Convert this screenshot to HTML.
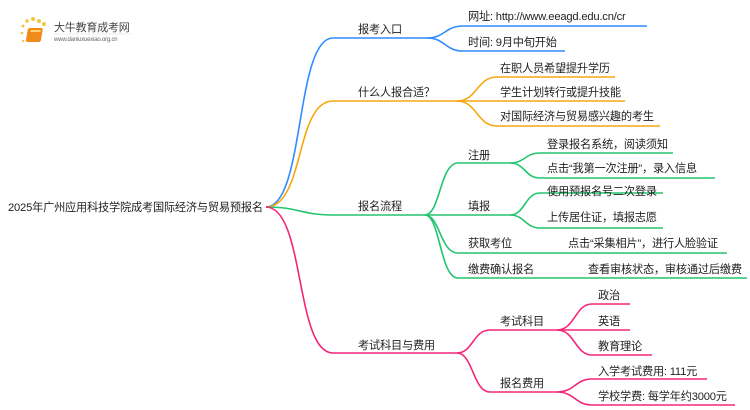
<!DOCTYPE html>
<html><head><meta charset="utf-8"><style>
body{margin:0;background:#fff;}
svg{display:block}
text{font-family:"Liberation Sans","Noto Sans CJK SC",sans-serif;font-size:11.2px;fill:#222;letter-spacing:-0.2px}
</style></head><body>
<svg width="750" height="410" viewBox="0 0 750 410" xmlns="http://www.w3.org/2000/svg">
<g fill="none" stroke-width="1.6">
<g stroke="#2f8cff">
<path d="M266 207 C305 207 295 38 333 38 L427 38"/>
<path d="M427 38 C445 38 445 26 463 26 L647 26"/>
<path d="M427 38 C445 38 445 51 463 51 L565 51"/>
</g>
<g stroke="#f5a70f">
<path d="M266 207 C305 207 295 101 333 101 L457 101"/>
<path d="M457 101 C477 101 477 77 497 77 L615 77"/>
<path d="M457 101 L625 101"/>
<path d="M457 101 C477 101 477 126 497 126 L660 126"/>
</g>
<g stroke="#22c46e">
<path d="M266 207 C300 207 300 215 333 215 L425 215"/>
<path d="M425 215 C440 215 440 163 458 163 L510 163"/>
<path d="M425 215 L510 215"/>
<path d="M425 215 C440 215 440 253 458 253 L727 253"/>
<path d="M425 215 C440 215 440 278 458 278 L747 278"/>
<path d="M510 163 C525 163 525 153 540 153 L673 153"/>
<path d="M510 163 C525 163 525 178 540 178 L715 178"/>
<path d="M510 215 C525 215 525 193 540 193 L663 193"/>
<path d="M510 215 C525 215 525 228 540 228 L663 228"/>
</g>
<g stroke="#f5267a">
<path d="M266 207 C305 207 295 353 333 353 L457 353"/>
<path d="M457 353 C473 353 473 330 490 330 L557 330"/>
<path d="M457 353 C473 353 473 392 490 392 L557 392"/>
<path d="M557 330 C575 330 575 304 592 304 L630 304"/>
<path d="M557 330 L630 330"/>
<path d="M557 330 C575 330 575 355 592 355 L652 355"/>
<path d="M557 392 C575 392 575 379 592 379 L707 379"/>
<path d="M557 392 C575 392 575 405 592 405 L735 405"/>
</g>
</g>
<g>
<circle cx="23" cy="26" r="1.5" fill="#f8c43a"/><circle cx="27" cy="21" r="1.8" fill="#f8c43a"/>
<circle cx="33" cy="19" r="2" fill="#f8c43a"/><circle cx="39" cy="21" r="2" fill="#f8c43a"/>
<circle cx="44" cy="24" r="2" fill="#f8c43a"/><circle cx="22" cy="33" r="1.3" fill="#f8c43a"/>
<circle cx="23" cy="41" r="1.2" fill="#f8c43a"/>
<rect x="33" y="28" width="15" height="14" rx="2" fill="#f08a18" transform="skewX(-10)"/>
<rect x="36" y="30" width="10" height="2" fill="#ffd27a" transform="skewX(-10)"/>
<text x="54" y="31" style="font-size:11px;fill:#444">大牛教育成考网</text>
<text x="54" y="41" style="font-size:6px;fill:#666">www.daniuxuexiao.org.cn</text>
<line x1="54" y1="34" x2="132" y2="34" stroke="#ddd" stroke-width="0.6"/>
</g>
<text x="8" y="211">2025年广州应用科技学院成考国际经济与贸易预报名</text>
<text x="358" y="33">报考入口</text>
<text x="468" y="20">网址: http://www.eeagd.edu.cn/cr</text>
<text x="468" y="46">时间: 9月中旬开始</text>
<text x="358" y="96">什么人报合适？</text>
<text x="500" y="72">在职人员希望提升学历</text>
<text x="500" y="96">学生计划转行或提升技能</text>
<text x="500" y="120">对国际经济与贸易感兴趣的考生</text>
<text x="358" y="210">报名流程</text>
<text x="468" y="159">注册</text>
<text x="468" y="210">填报</text>
<text x="468" y="247">获取考位</text>
<text x="468" y="273">缴费确认报名</text>
<text x="547" y="148">登录报名系统，阅读须知</text>
<text x="547" y="172">点击“我第一次注册”，录入信息</text>
<text x="547" y="195">使用预报名号二次登录</text>
<text x="547" y="221">上传居住证，填报志愿</text>
<text x="568" y="247">点击“采集相片”，进行人脸验证</text>
<text x="588" y="273">查看审核状态，审核通过后缴费</text>
<text x="358" y="349">考试科目与费用</text>
<text x="500" y="325">考试科目</text>
<text x="500" y="387">报名费用</text>
<text x="598" y="299">政治</text>
<text x="598" y="325">英语</text>
<text x="598" y="350">教育理论</text>
<text x="598" y="375">入学考试费用: 111元</text>
<text x="598" y="400">学校学费: 每学年约3000元</text>
</svg>
</body></html>
